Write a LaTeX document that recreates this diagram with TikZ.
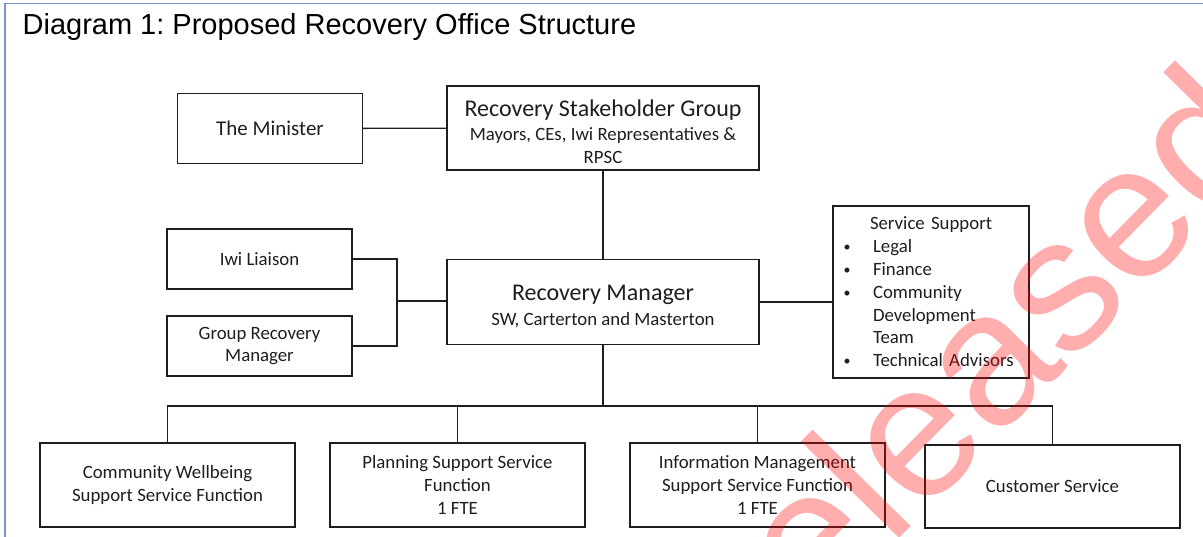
\documentclass[tikz,border=0pt]{standalone}
\usepackage{fontspec}
\setmainfont{Carlito}
\newfontfamily\headfont{Liberation Sans}
\usepackage{tikz}
\frenchspacing

\definecolor{framebd}{RGB}{120,150,205}
\definecolor{inkgrey}{RGB}{30,30,30}

% larger first line inside a box
\newcommand\boxhead[1]{{\fontsize{24}{27}\selectfont\rule{0pt}{24pt}#1}}
\newcommand\sitem[1]{\makebox[31.5pt][l]{\hspace{2pt}\raisebox{1pt}{\fontsize{14}{14}\selectfont\textbullet}}#1}

\tikzset{
    orgbox/.style={draw=inkgrey, align=center, inner sep=0pt, text=inkgrey,
        font=\fontsize{18.8}{22.8}\selectfont},
    wide/.style={orgbox, minimum width=312pt, minimum height=85pt},
    side/.style={orgbox, minimum width=185pt, minimum height=60pt},
    unit/.style={orgbox, minimum width=255pt, minimum height=84pt},
    stamp/.style={anchor=base west, inner sep=0pt, rotate=45.5, text=red,
        text opacity=0.32, font=\headfont\fontsize{190}{190}\selectfont}
}

\begin{document}
\begin{tikzpicture}[x=1pt, y=-1pt, line width=1.3pt]
    \useasboundingbox (0,0) rectangle (1203,537);
    \draw [framebd, line width=1.2pt] (5,537) |- (1203,3.5);
    \node [anchor=base west, inner sep=0pt, font=\headfont\fontsize{29}{34}\selectfont]
        (title) at (22,35) {Diagram 1: Proposed Recovery Office Structure};

    % top level
    \node [side, minimum height=70pt, font=\fontsize{21}{25}\selectfont] (minister) at (270,128.5) {The Minister};
    \node [wide, minimum height=84pt] (group) at (603,128)
        {\boxhead{Recovery Stakeholder Group}\\[2pt] Mayors, CEs, Iwi Representatives \&\\ RPSC};
    \node [wide] (manager) at (603,302)
        {\boxhead{Recovery Manager}\\[2pt] SW, Carterton and Masterton};

    % advisers and support
    \node [side] (iwi) at (259.5,259) {Iwi Liaison};
    \node [side] (grm) at (259.5,346) {Group Recovery\\ Manager};
    \node [orgbox, minimum width=196pt, minimum height=172pt, text width=179pt,
        inner xsep=8.5pt, align=left] (support) at (931,292)
        {\hspace*{28.5pt}Service Support\\
         \sitem{Legal}\\
         \sitem{Finance}\\
         \sitem{Community}\\
         \hspace*{31.5pt}Development\\
         \hspace*{31.5pt}Team\\
         \sitem{Technical Advisors}};

    % functions
    \node [unit] (wellbeing) at (167.5,485) {Community Wellbeing\\ Support Service Function};
    \node [unit] (planning) at (457.5,485) {Planning Support Service\\ Function\\ 1 FTE};
    \node [unit] (info) at (757.5,485) {Information Management\\ Support Service Function\\ 1 FTE};
    \node [unit, minimum height=83pt] (customer) at (1052.5,486.5) {Customer Service};

    % connectors
    \draw [inkgrey] (minister) -- (group);
    \draw [inkgrey] (group) -- (manager);
    \draw [inkgrey] (manager.east) -- (manager.east -| support.west);
    \coordinate (fork) at (397,301);
    \draw [inkgrey] (iwi.east) -| (fork) |- (grm.east);
    \draw [inkgrey] (fork) -- (manager.west |- fork);
    \coordinate (bus) at (603,406);
    \draw [inkgrey] (manager) -- (bus);
    \draw [inkgrey] (wellbeing.north) |- (bus) -| (customer.north);
    \draw [inkgrey] (planning.north) -- (planning.north |- bus);
    \draw [inkgrey] (info.north) -- (info.north |- bus);

    \begin{scope}
        \clip (0,0) rectangle (1203,537);
        \node [stamp] (mark) at (720,721) {Released};
    \end{scope}
\end{tikzpicture}
\end{document}
